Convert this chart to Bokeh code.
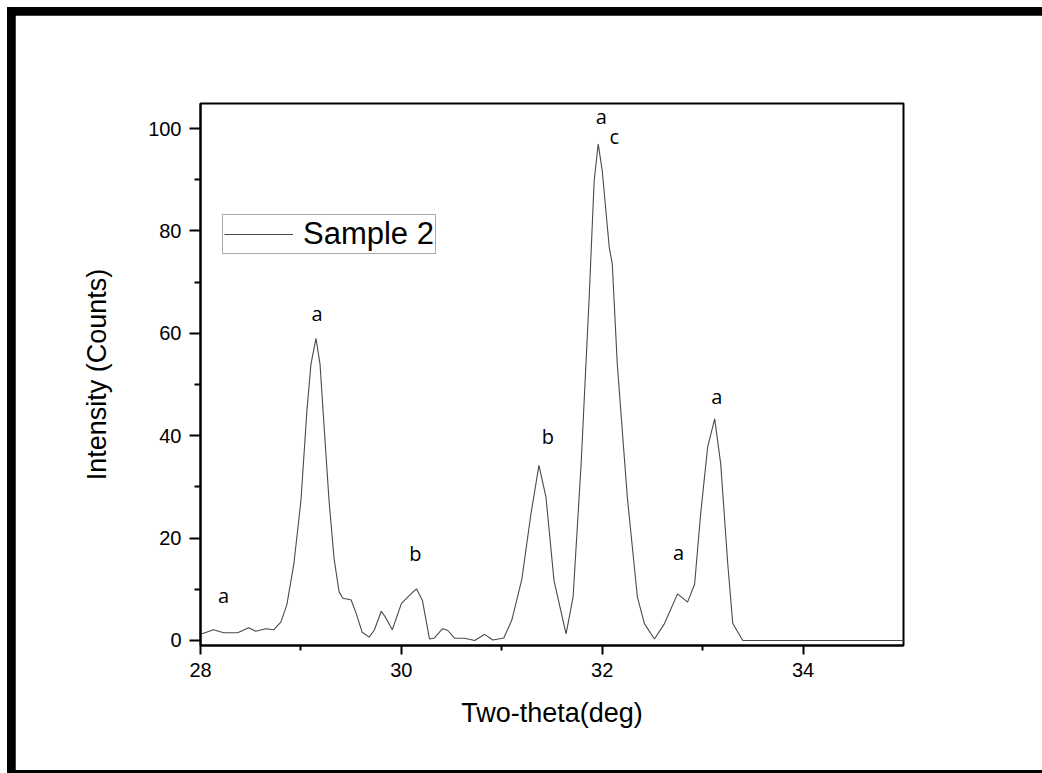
from bokeh.plotting import figure
from bokeh.layouts import column
from bokeh.models import FixedTicker, Range1d, Legend, LegendItem, ColumnDataSource
from bokeh.core.properties import value
from bokeh.embed import file_html
from bokeh.resources import INLINE

# ---- data ----
two_theta = [28.0, 28.13, 28.23, 28.37, 28.48, 28.55, 28.65, 28.73, 28.8, 28.86,
             28.93, 29.0, 29.06, 29.1, 29.15, 29.19, 29.23, 29.28, 29.33, 29.38,
             29.42, 29.46, 29.5, 29.55, 29.61, 29.68, 29.73, 29.8, 29.84, 29.91,
             30.0, 30.08, 30.15, 30.21, 30.28, 30.33, 30.41, 30.46, 30.53, 30.63,
             30.73, 30.83, 30.91, 31.02, 31.1, 31.2, 31.29, 31.37, 31.44, 31.52,
             31.64, 31.71, 31.79, 31.87, 31.92, 31.96, 32.0, 32.07, 32.1, 32.15,
             32.25, 32.35, 32.42, 32.52, 32.62, 32.75, 32.85, 32.92, 32.98, 33.05,
             33.12, 33.18, 33.25, 33.3, 33.4, 35.0]
intensity = [1.2, 2.1, 1.5, 1.5, 2.5, 1.8, 2.3, 2.1, 3.6, 7.0,
             15.0, 27.3, 45.0, 54.0, 59.0, 54.0, 42.0, 27.3, 16.0, 9.5,
             8.2, 8.1, 7.9, 5.3, 1.6, 0.65, 2.0, 5.7, 4.6, 2.1,
             7.2, 8.8, 10.1, 7.8, 0.3, 0.5, 2.3, 2.0, 0.45, 0.45,
             0.0, 1.2, 0.1, 0.5, 4.0, 12.0, 24.7, 34.2, 28.0, 11.7,
             1.3, 8.5, 34.5, 67.0, 89.8, 97.0, 91.8, 76.8, 73.6, 54.0,
             28.0, 8.5, 3.3, 0.3, 3.3, 9.1, 7.5, 11.0, 24.7, 37.8,
             43.3, 34.5, 15.0, 3.3, 0.0, 0.0]

peak_labels = ["a", "a", "b", "b", "a", "c", "a", "a"]
peak_label_x = [28.23, 29.16, 30.14, 31.46, 31.99, 32.12, 32.76, 33.14]
peak_label_y = [8.8, 63.9, 17.0, 39.8, 102.3, 98.4, 17.2, 47.7]

x_ticks = [28, 30, 32, 34]
x_minor = [29, 31, 33]
y_ticks = [0, 20, 40, 60, 80, 100]
y_minor = [10, 30, 50, 70, 90]

series_name = "Sample 2"
x_title = "Two-theta(deg)"
y_title = "Intensity (Counts)"

# ---- figure ----
W, H = 1027, 755
OX, OY = 15, 15  # canvas origin on the page (inside the black picture frame)
fig = figure(width=W, height=H, output_backend="svg", toolbar_location=None,
             x_range=Range1d(28, 35.0), y_range=Range1d(-0.98, 104.9),
             min_border_left=200 - OX, min_border_top=103 - OY,
             min_border_right=OX + W - 903, min_border_bottom=OY + H - 645)
fig.margin = (8, 0, 3, 8)
fig.background_fill_color = "white"
fig.border_fill_color = "white"
fig.grid.visible = False
fig.outline_line_color = "black"
fig.outline_line_width = 2

src = ColumnDataSource(dict(x=two_theta, y=intensity))
r = fig.line("x", "y", source=src, line_color="#4a4a4a", line_width=1.1)

lsrc = ColumnDataSource(dict(x=peak_label_x, y=peak_label_y, t=peak_labels))
fig.text("x", "y", text="t", source=lsrc, text_font=value("Open Sans"),
         text_font_size="20px", text_align="center", text_baseline="middle",
         text_color="black")

# axes
fig.xaxis.ticker = FixedTicker(ticks=x_ticks, minor_ticks=x_minor)
fig.yaxis.ticker = FixedTicker(ticks=y_ticks, minor_ticks=y_minor)
for ax in (fig.xaxis[0], fig.yaxis[0]):
    ax.axis_line_color = "black"
    ax.axis_line_width = 2
    ax.major_tick_line_color = "black"
    ax.minor_tick_line_color = "black"
    ax.major_tick_line_width = 2
    ax.minor_tick_line_width = 2
    ax.major_tick_in = 0
    ax.minor_tick_in = 0
    ax.major_label_text_font = "Liberation Sans"
    ax.major_label_text_font_size = "20px"
    ax.major_label_text_color = "black"
    ax.axis_label_text_font = "Liberation Sans"
    ax.axis_label_text_font_size = "27px"
    ax.axis_label_text_font_style = "normal"
    ax.axis_label_text_color = "black"
fig.xaxis.major_tick_out = 9
fig.xaxis.minor_tick_out = 5
fig.yaxis.major_tick_out = 11
fig.yaxis.minor_tick_out = 6
fig.xaxis.major_label_standoff = 8
fig.yaxis.major_label_standoff = 8
fig.xaxis.axis_label = x_title
fig.yaxis.axis_label = y_title
fig.xaxis.axis_label_standoff = 18
fig.yaxis.axis_label_standoff = 33

legend = Legend(items=[LegendItem(label=series_name, renderers=[r])],
                location=(22, 391), orientation="vertical")
legend.label_text_font = "Liberation Sans"
legend.label_text_font_size = "31px"
legend.label_text_color = "black"
legend.glyph_width = 69
legend.label_standoff = 10
legend.padding = 1
legend.margin = 0
legend.spacing = 0
legend.border_line_color = "#555555"
legend.border_line_width = 1
legend.background_fill_alpha = 1
fig.add_layout(legend)

# black picture frame behind the figure (visible through the figure's margins)
p = column(fig, margin=(7, 0, 0, 7), styles={"background-color": "black"})

open("out.html", "w").write(file_html(p, INLINE))
